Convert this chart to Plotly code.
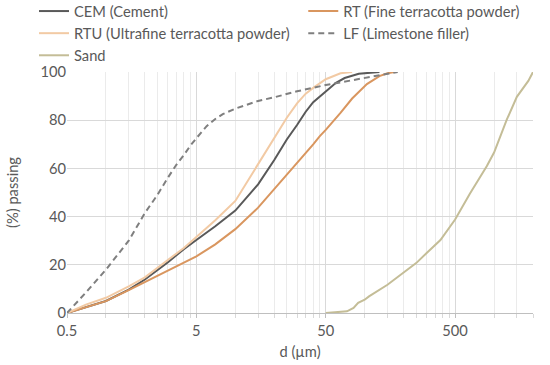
import plotly.graph_objects as go

# ---- data ----
cem_d = [0.5, 0.7, 1, 1.5, 2, 3, 4, 5, 7, 10, 15, 20, 25, 30, 35, 40, 50, 60, 70, 90, 130]
cem_p = [0, 2.3, 5, 9.7, 13.9, 21, 26.5, 30.3, 36, 42.5, 53.4, 63.5, 72, 78, 83.5, 87.5, 92, 95.5, 97.5, 99.3, 100]

rt_d = [0.5, 0.7, 1, 1.5, 2, 3, 4, 5, 7, 10, 15, 20, 25, 30, 35, 40, 45, 50, 65, 80, 104, 130, 150, 170]
rt_p = [0, 2.5, 4.9, 9.5, 12.8, 17.4, 21, 23.5, 28.5, 34.8, 43.7, 51.3, 57.5, 62.3, 66.5, 70, 73.4, 76, 83, 89, 95, 98.3, 99.5, 100]

rtu_d = [0.5, 0.7, 1, 1.5, 2, 3, 4, 5, 7, 10, 15, 20, 25, 30, 35, 40, 50, 65, 80]
rtu_p = [0, 3.5, 6.3, 11, 14.8, 22, 27, 31.5, 38.5, 46.5, 61.7, 72.7, 81, 87, 91, 93.4, 97, 99.5, 100]

lf_d = [0.5, 0.7, 1, 1.5, 2, 2.5, 3, 3.5, 4, 4.5, 5, 6, 7, 8, 10, 15, 20, 30, 50, 65, 100, 140, 180]
lf_p = [0, 8.5, 18, 30, 41.5, 49, 56, 61.5, 65.5, 69.5, 72.5, 77.5, 80.5, 82.5, 84.8, 88, 89.5, 92, 94.6, 95.7, 97.7, 99.2, 100]

sand_d = [50, 73, 82, 89, 100, 108, 150, 200, 250, 300, 385, 500, 650, 880, 1000, 1254, 1500, 1840, 2000]
sand_p = [0, 0.7, 2.1, 4.2, 5.5, 6.9, 11.7, 16.6, 20.7, 24.8, 30.3, 38.8, 49.5, 61, 66.6, 80.2, 89.7, 96.3, 100]

x_tick_vals = [0.5, 5, 50, 500]
x_tick_text = ["0.5", "5", "50", "500"]
y_tick_vals = [0, 20, 40, 60, 80, 100]

# name, x, y, colour, dash, legend column
series = [
    ("CEM (Cement)", cem_d, cem_p, "#595959", "solid", "legend"),
    ("RT (Fine terracotta powder)", rt_d, rt_p, "#D9965F", "solid", "legend2"),
    ("RTU (Ultrafine terracotta powder)", rtu_d, rtu_p, "#F2CAA4", "solid", "legend"),
    ("LF (Limestone filler)", lf_d, lf_p, "#7F7F7F", "6px,4px", "legend2"),
    ("Sand", sand_d, sand_p, "#C4BD97", "solid", "legend"),
]

fig = go.Figure()
for name, d, p, col, dash, leg in series:
    fig.add_trace(go.Scatter(x=d, y=p, mode="lines", name=name, legend=leg,
                             line=dict(color=col, width=2, dash=dash)))

minor_vals = []
for base in [0.5, 5, 50, 500]:
    for k in range(2, 10):
        v = base * k
        if v <= 2000:
            minor_vals.append(v)
minor_vals.append(2000)

FS = 14.7
font_family = "Lato, Carlito, Calibri, sans-serif"
leg_common = dict(orientation="v", yanchor="top", xanchor="left",
                  font=dict(size=FS, color="#595959", family=font_family),
                  bgcolor="rgba(0,0,0,0)", tracegroupgap=0)
fig.update_layout(
    width=550, height=365,
    margin=dict(l=67, r=17, t=72, b=52, autoexpand=False),
    paper_bgcolor="white", plot_bgcolor="white",
    font=dict(family=font_family, size=FS, color="#595959"),
    legend=dict(x=-0.0708, y=1.3195, **leg_common),
    legend2=dict(x=0.507, y=1.3195, **leg_common),
    showlegend=True,
)
fig.update_xaxes(
    type="log", range=[-0.30103, 3.30103],
    tickmode="array", tickvals=x_tick_vals, ticktext=x_tick_text,
    showgrid=True, gridcolor="#D9D9D9", gridwidth=1,
    showline=True, linecolor="#BFBFBF", linewidth=1,
    ticks="outside", ticklen=4, tickcolor="#BFBFBF",
    minor=dict(tickmode="array", tickvals=minor_vals, showgrid=True,
               gridcolor="#EBEBEB", gridwidth=1, ticks="outside", ticklen=4,
               tickcolor="#D9D9D9"),
    title=dict(text="d (µm)", font=dict(size=FS, color="#595959"), standoff=9),
    tickfont=dict(size=FS, color="#595959"),
    zeroline=False,
)
fig.update_yaxes(
    range=[0, 100], tickvals=y_tick_vals,
    showgrid=True, gridcolor="#D9D9D9", gridwidth=1,
    zeroline=False, showline=False,
    title=dict(text="(%) passing", font=dict(size=FS, color="#595959"), standoff=18),
    tickfont=dict(size=FS, color="#595959"),
)

fig.write_html("out.html",
               config={"displayModeBar": False},
               post_script="document.body.style.margin='0';document.body.style.padding='0';")
